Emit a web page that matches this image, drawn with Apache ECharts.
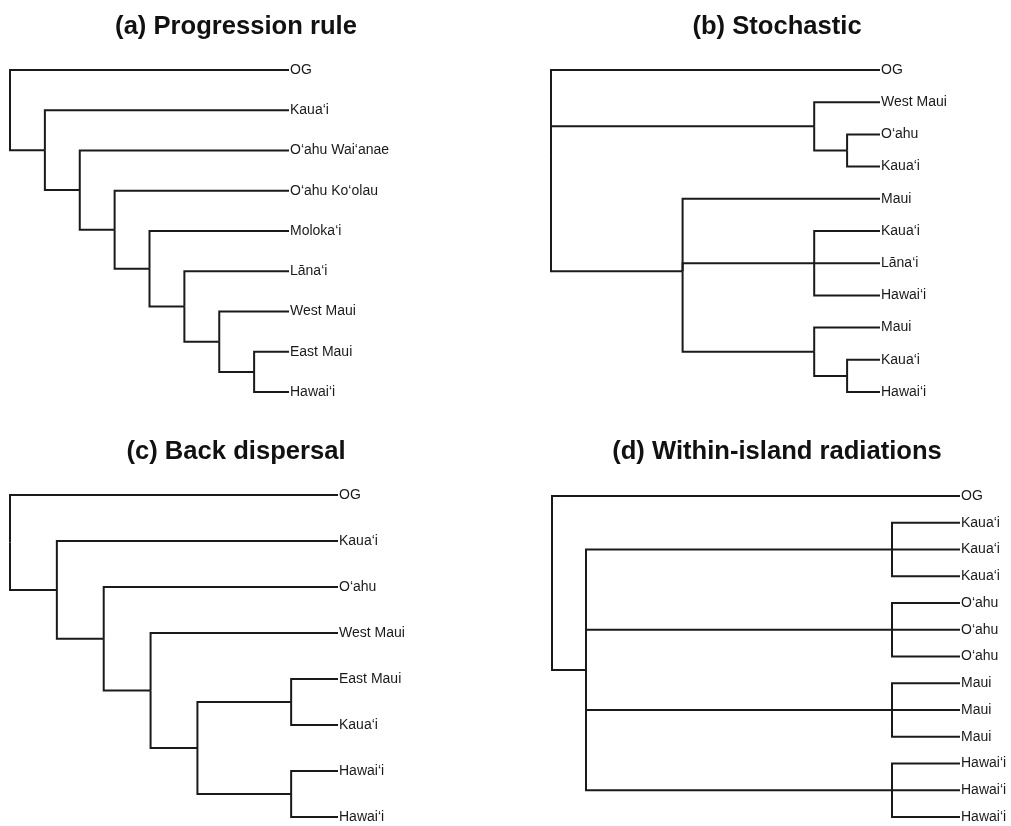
<!DOCTYPE html>
<html>
<head>
<meta charset="utf-8">
<title>Hawaiian biogeography cladograms</title>
<script src="https://cdn.jsdelivr.net/npm/echarts@6/dist/echarts.min.js"></script>
<style>
  html, body { margin: 0; padding: 0; background: #fff; }
  #chart { width: 1011px; height: 826px; }
</style>
</head>
<body>
<div id="chart"></div>
<script>
// Four hypothetical trees, written in Newick form with branch lengths.
const titles = [
  '(a) Progression rule',
  '(b) Stochastic',
  '(c) Back dispersal',
  '(d) Within-island radiations'
];

const treeA = '(OG:8,(Kaua‘i:7,(O‘ahu Wai‘anae:6,(O‘ahu Ko‘olau:5,(Moloka‘i:4,(Lāna‘i:3,(West Maui:2,(East Maui:1,Hawai‘i:1):1):1):1):1):1):1):1);';
const treeB = '(OG:10,(West Maui:2,(O‘ahu:1,Kaua‘i:1):1):8,(Maui:6,(Kaua‘i:2,Lāna‘i:2,Hawai‘i:2):4,(Maui:2,(Kaua‘i:1,Hawai‘i:1):1):4):4);';
const treeC = '(OG:7,(Kaua‘i:6,(O‘ahu:5,(West Maui:4,((East Maui:1,Kaua‘i:1):2,(Hawai‘i:1,Hawai‘i:1):2):1):1):1):1);';
const treeD = '(OG:12,((Kaua‘i:2,Kaua‘i:2,Kaua‘i:2):9,(O‘ahu:2,O‘ahu:2,O‘ahu:2):9,(Maui:2,Maui:2,Maui:2):9,(Hawai‘i:2,Hawai‘i:2,Hawai‘i:2):9):1);';

const trees = [treeA, treeB, treeC, treeD];

// Panel placement on the page (pixels)
const panels = [
  { left: 10,  top: 70,  width: 279, height: 322, titleX: 236, titleTop: 14 },
  { left: 551, top: 70,  width: 329, height: 322, titleX: 777, titleTop: 14 },
  { left: 10,  top: 495, width: 328, height: 322, titleX: 236, titleTop: 439 },
  { left: 552, top: 496, width: 408, height: 321, titleX: 777, titleTop: 439 }
];

const FONT = "'Liberation Sans', Arial, Helvetica, sans-serif";
const INK = '#1a1a1a';

function parseNewick(s) {
  let i = 0;
  function node() {
    const n = { children: [] };
    if (s[i] === '(') {
      i++;
      n.children.push(node());
      while (s[i] === ',') { i++; n.children.push(node()); }
      i++; // closing ')'
    }
    let name = '';
    while (i < s.length && !',():;'.includes(s[i])) name += s[i++];
    n.name = name.trim();
    n.len = 0;
    if (s[i] === ':') {
      i++;
      let l = '';
      while (i < s.length && !',();'.includes(s[i])) l += s[i++];
      n.len = parseFloat(l);
    }
    return n;
  }
  return node();
}

// Depth from the root on x, tip order on y; internal nodes sit at the mean of their children.
function layout(root) {
  const tips = [];
  const edges = [];
  let maxX = 0;
  (function place(n, x) {
    n.x = x;
    if (!n.children.length) {
      n.y = tips.length;
      tips.push(n);
    } else {
      n.children.forEach(c => place(c, x + c.len));
      n.y = n.children.reduce((a, c) => a + c.y, 0) / n.children.length;
    }
    maxX = Math.max(maxX, x);
  })(root, 0);
  (function walk(n) {
    n.children.forEach(c => {
      edges.push({ coords: [[n.x, n.y], [n.x, c.y], [c.x, c.y]] });
      walk(c);
    });
  })(root);
  return { tips, edges, maxX };
}

const grids = [], xAxes = [], yAxes = [], series = [], titleOpts = [];

trees.forEach((t, k) => {
  const p = panels[k];
  const L = layout(parseNewick(t));
  grids.push({ left: p.left, top: p.top, width: p.width, height: p.height, containLabel: false });
  xAxes.push({ gridIndex: k, type: 'value', min: 0, max: L.maxX, show: false });
  yAxes.push({ gridIndex: k, type: 'value', min: 0, max: L.tips.length - 1, inverse: true, show: false });
  series.push({
    type: 'lines',
    coordinateSystem: 'cartesian2d',
    xAxisIndex: k, yAxisIndex: k,
    polyline: true,
    silent: true,
    lineStyle: { color: INK, width: 2, opacity: 1, join: 'miter' },
    data: L.edges
  });
  series.push({
    type: 'scatter',
    xAxisIndex: k, yAxisIndex: k,
    symbolSize: 0,
    silent: true,
    itemStyle: { color: 'transparent', opacity: 1 },
    label: {
      show: true, position: 'right', distance: 1, opacity: 1,
      formatter: '{b}', color: INK, fontSize: 14, fontFamily: FONT
    },
    data: L.tips.map(n => ({ name: n.name, value: [n.x, n.y] }))
  });
  titleOpts.push({
    text: titles[k], left: p.titleX, top: p.titleTop, textAlign: 'center', padding: 0,
    textStyle: { fontSize: 25.6, fontWeight: 'bold', color: '#111', fontFamily: FONT }
  });
});

const chart = echarts.init(document.getElementById('chart'), null, { renderer: 'canvas' });
chart.setOption({
  animation: false,
  backgroundColor: '#fff',
  title: titleOpts,
  grid: grids,
  xAxis: xAxes,
  yAxis: yAxes,
  series: series
});
</script>
</body>
</html>
